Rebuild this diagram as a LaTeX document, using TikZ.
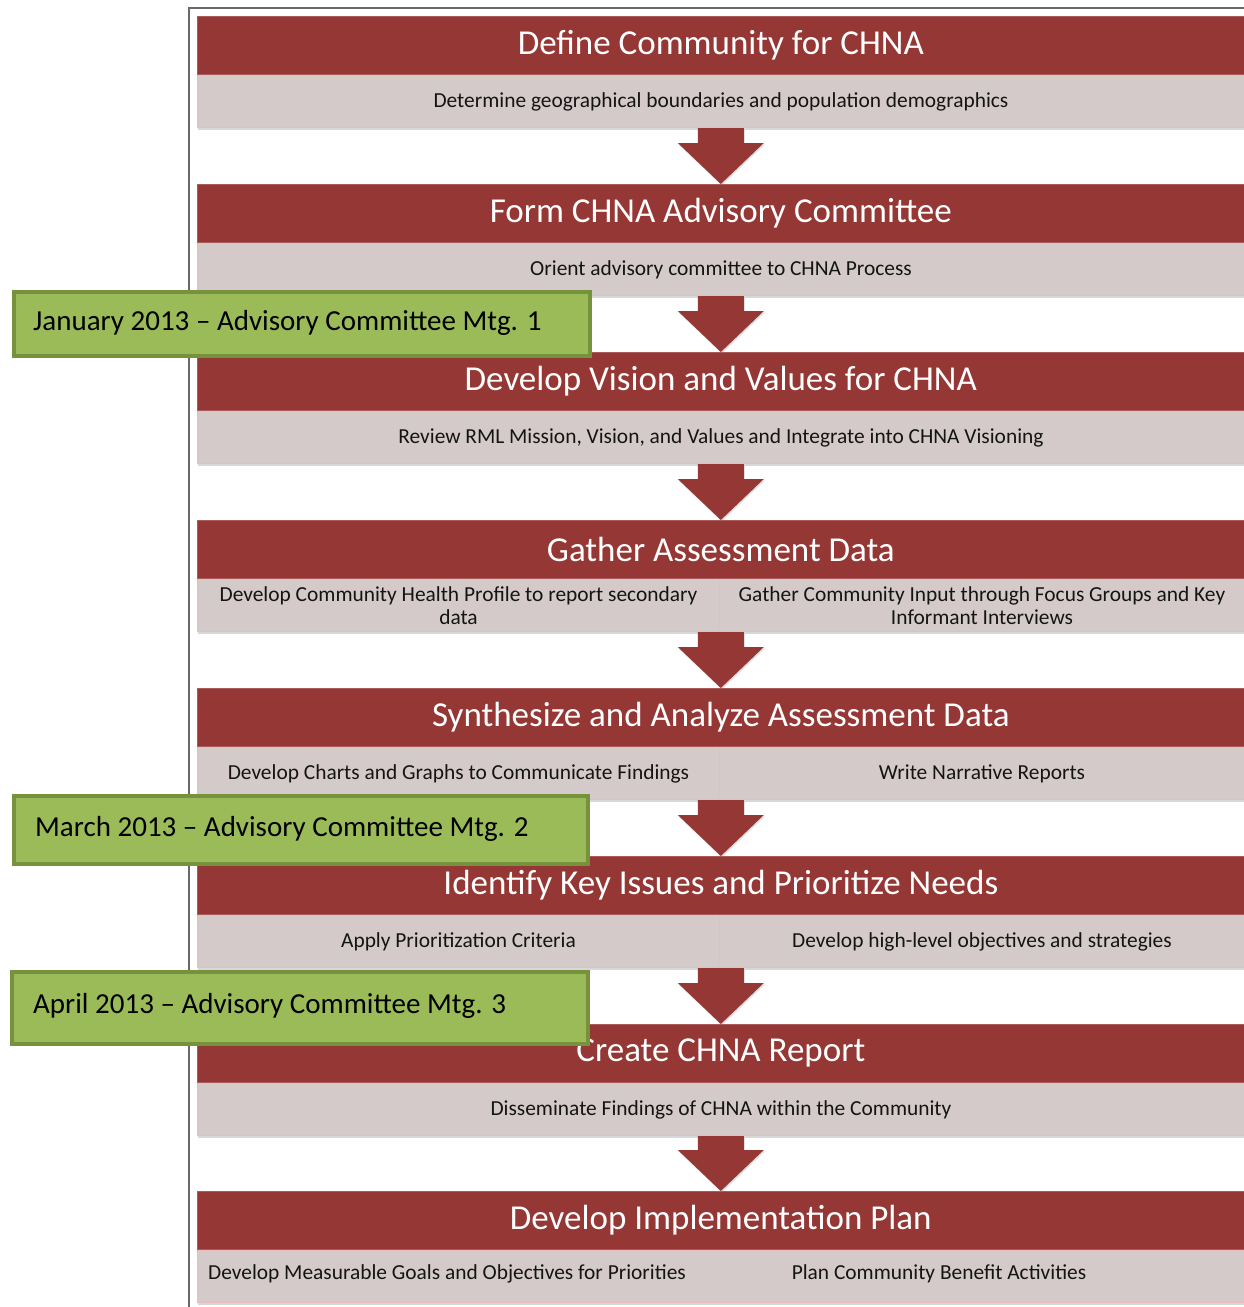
\documentclass[tikz,border=0pt]{standalone}
\usepackage{fontspec}
\setmainfont{Carlito}
\usetikzlibrary{calc,shadows}
\definecolor{cred}{RGB}{149,55,53}
\definecolor{credb}{RGB}{170,90,88}
\definecolor{cgray}{RGB}{213,202,202}
\definecolor{cpink}{RGB}{232,190,189}
\definecolor{cgreen}{RGB}{155,187,89}
\definecolor{cgreenb}{RGB}{118,146,60}
\definecolor{cframe}{RGB}{105,105,105}
\definecolor{ctext}{RGB}{20,20,20}
\newcommand\blockarrow[2]{%
  \fill[cred, drop shadow={shadow xshift=1pt, shadow yshift=-1.5pt, opacity=0.25}]
    let \p1=(#1), \p2=(#2) in
    (\x2-23pt,\y1) -- (\x2+23pt,\y1) -- (\x2+23pt,\y2+41pt) -- (\x2+43pt,\y2+41pt)
    -- (\x2,\y2) -- (\x2-43pt,\y2+41pt) -- (\x2-23pt,\y2+41pt) -- cycle;}
\begin{document}
\begin{tikzpicture}[x=1pt,y=-1pt,
  hdr/.style={fill=cred, draw=credb, line width=0.6pt, minimum width=1047pt, minimum height=58pt,
    anchor=north west, inner sep=0pt, text=white, font=\fontsize{35}{40}\selectfont},
  subbar/.style={fill=cgray, draw=cpink, line width=1pt, minimum height=52pt, anchor=north west,
    inner sep=0pt, text=ctext, font=\fontsize{21.4}{23}\selectfont, align=center,
    drop shadow={shadow xshift=0pt, shadow yshift=-2.5pt, opacity=0.3}},
  subfull/.style={subbar, minimum width=1047pt},
  subleft/.style={subbar, minimum width=522pt},
  subright/.style={subbar, minimum width=525pt},
  subtxt/.style={inner sep=0pt, text=ctext, font=\fontsize{21.4}{23}\selectfont},
  mtg/.style={fill=cgreen, draw=cgreenb, line width=4pt, anchor=north west, inner sep=0pt},
  mtgtxt/.style={anchor=west, inner sep=0pt, text=black, font=\fontsize{29}{34}\selectfont}
]
\useasboundingbox (0,0) rectangle (1244,1307);
\clip (0,0) rectangle (1244,1307);
\fill[white] (0,0) rectangle (1244,1307);
\draw[cframe, line width=2pt] (1250,8) -- (189,8) -- (189,1320);

% stage 1
\node[hdr] (h1) at (197,16) {Define Community for CHNA};
\node[subfull] (s1) at (197,75) {Determine geographical boundaries and population demographics};
% stage 2
\node[hdr] (h2) at (197,184) {Form CHNA Advisory Committee};
\node[subfull] (s2) at (197,243) {Orient advisory committee to CHNA Process};
% stage 3
\node[hdr] (h3) at (197,352) {Develop Vision and Values for CHNA};
\node[subfull] (s3) at (197,411) {Review RML Mission, Vision, and Values and Integrate into CHNA Visioning};
% stage 4
\node[hdr] (h4) at (197,520) {Gather Assessment Data};
\node[subleft] (s4a) at (197,579) {Develop Community Health Profile to report secondary\\data};
\node[subright] (s4b) at (719,579) {Gather Community Input through Focus Groups and Key\\Informant Interviews};
% stage 5
\node[hdr] (h5) at (197,688) {Synthesize and Analyze Assessment Data};
\node[subleft] (s5a) at (197,747) {Develop Charts and Graphs to Communicate Findings};
\node[subright] (s5b) at (719,747) {Write Narrative Reports};
% stage 6
\node[hdr] (h6) at (197,856) {Identify Key Issues and Prioritize Needs};
\node[subleft] (s6a) at (197,915) {Apply Prioritization Criteria};
\node[subright] (s6b) at (719,915) {Develop high-level objectives and strategies};
% stage 7
\node[hdr] (h7) at (197,1024) {Create CHNA Report};
\node[subfull] (s7) at (197,1083) {Disseminate Findings of CHNA within the Community};
% stage 8
\node[hdr] (h8) at (197,1191) {Develop Implementation Plan};
\node[subfull] (s8) at (197,1250) {};
\node[subtxt] (t8a) at (447,1274) {Develop Measurable Goals and Objectives for Priorities};
\node[subtxt] (t8b) at (939,1274) {Plan Community Benefit Activities};

% arrows
\blockarrow{s1.south}{h2.north}
\blockarrow{s2.south}{h3.north}
\blockarrow{s3.south}{h4.north}
\blockarrow{s4a.south east}{h5.north}
\blockarrow{s5a.south east}{h6.north}
\blockarrow{s6a.south east}{h7.north}
\blockarrow{s7.south}{h8.north}

% meetings
\node[mtg, minimum width=576pt, minimum height=64pt] (g1) at (12,290) {};
\node[mtgtxt] (m1) at ($(g1.west)+(21,-1)$) {January 2013 – Advisory Committee Mtg. 1};
\node[mtg, minimum width=574pt, minimum height=68pt] (g2) at (12,794) {};
\node[mtgtxt] (m2) at ($(g2.west)+(23,-1)$) {March 2013 – Advisory Committee Mtg. 2};
\node[mtg, minimum width=576pt, minimum height=72pt] (g3) at (10,970) {};
\node[mtgtxt] (m3) at ($(g3.west)+(23,-2)$) {April 2013 – Advisory Committee Mtg. 3};
\end{tikzpicture}
\end{document}
